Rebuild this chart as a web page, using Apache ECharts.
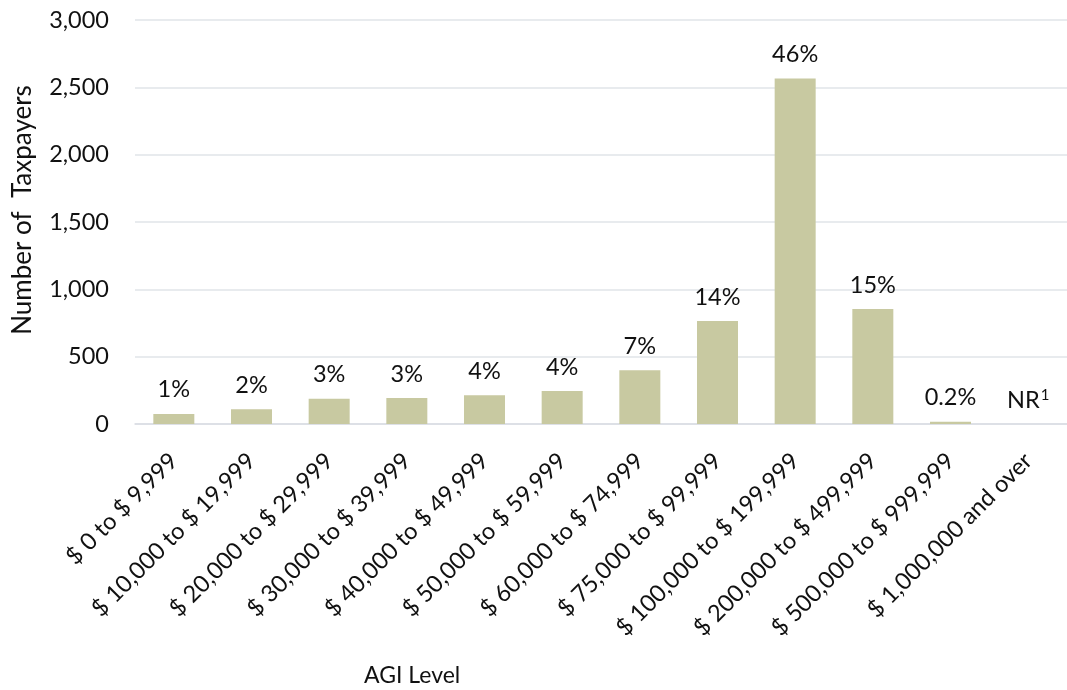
<!DOCTYPE html>
<html>
<head>
<meta charset="utf-8">
<script src="https://cdn.jsdelivr.net/npm/echarts@6/dist/echarts.min.js"></script>
<style>
html,body{margin:0;padding:0;background:#fff;}
#chart{width:1067px;height:690px;}
</style>
</head>
<body>
<div id="chart"></div>
<script>
var categories = ["$ 0 to $ 9,999","$ 10,000 to $ 19,999","$ 20,000 to $ 29,999","$ 30,000 to $ 39,999","$ 40,000 to $ 49,999","$ 50,000 to $ 59,999","$ 60,000 to $ 74,999","$ 75,000 to $ 99,999","$ 100,000 to $ 199,999","$ 200,000 to $ 499,999","$ 500,000 to $ 999,999","$ 1,000,000 and over"];
var taxpayers = [75, 110, 188, 193, 213, 245, 399, 765, 2566, 854, 17, 0];
var shareLabels = ["1%","2%","3%","3%","4%","4%","7%","14%","46%","15%","0.2%","NR{sup|1}"];
var yTicks = [0, 500, 1000, 1500, 2000, 2500, 3000];

var FONT = "Lato, 'Open Sans', sans-serif";
var chart = echarts.init(document.getElementById('chart'));
chart.setOption({
  animation: false,
  grid: {left: 135, top: 20, width: 942, height: 404, containLabel: false},
  xAxis: {
    type: 'category',
    data: categories,
    axisLine: {show: true, lineStyle: {color: '#d9dde3', width: 1.5}},
    axisTick: {show: false},
    axisLabel: {rotate: 45, interval: 0, margin: 33, color: '#111', fontSize: 23.5, fontFamily: FONT}
  },
  yAxis: {
    type: 'value',
    min: yTicks[0],
    max: yTicks[yTicks.length - 1],
    interval: 500,
    axisLine: {show: false},
    axisTick: {show: false},
    splitLine: {lineStyle: {color: '#e1e4e9', width: 1.5}},
    axisLabel: {
      margin: 26, color: '#111', fontSize: 23.5, fontFamily: FONT,
      formatter: function (v) { return v.toLocaleString('en-US'); }
    }
  },
  series: [{
    type: 'bar',
    data: taxpayers,
    barWidth: 41,
    itemStyle: {color: '#c8c9a1'},
    label: {
      show: true,
      position: 'top',
      distance: 12,
      color: '#111',
      fontSize: 23.5,
      fontFamily: FONT,
      formatter: function (p) { return shareLabels[p.dataIndex]; },
      rich: {
        sup: {fontSize: 15, fontFamily: FONT, color: '#111', verticalAlign: 'top', padding: [0, 0, 9, 1]}
      }
    }
  }],
  graphic: [
    {type: 'text', left: 364, top: 664, style: {text: 'AGI Level', fontSize: 23, fontFamily: FONT, fill: '#111'}},
    {type: 'text', x: 23, y: 210, rotation: Math.PI / 2,
     style: {text: 'Number of  Taxpayers', fontSize: 26, fontFamily: FONT, fill: '#111', align: 'center', verticalAlign: 'middle'}}
  ]
});
</script>
</body>
</html>
